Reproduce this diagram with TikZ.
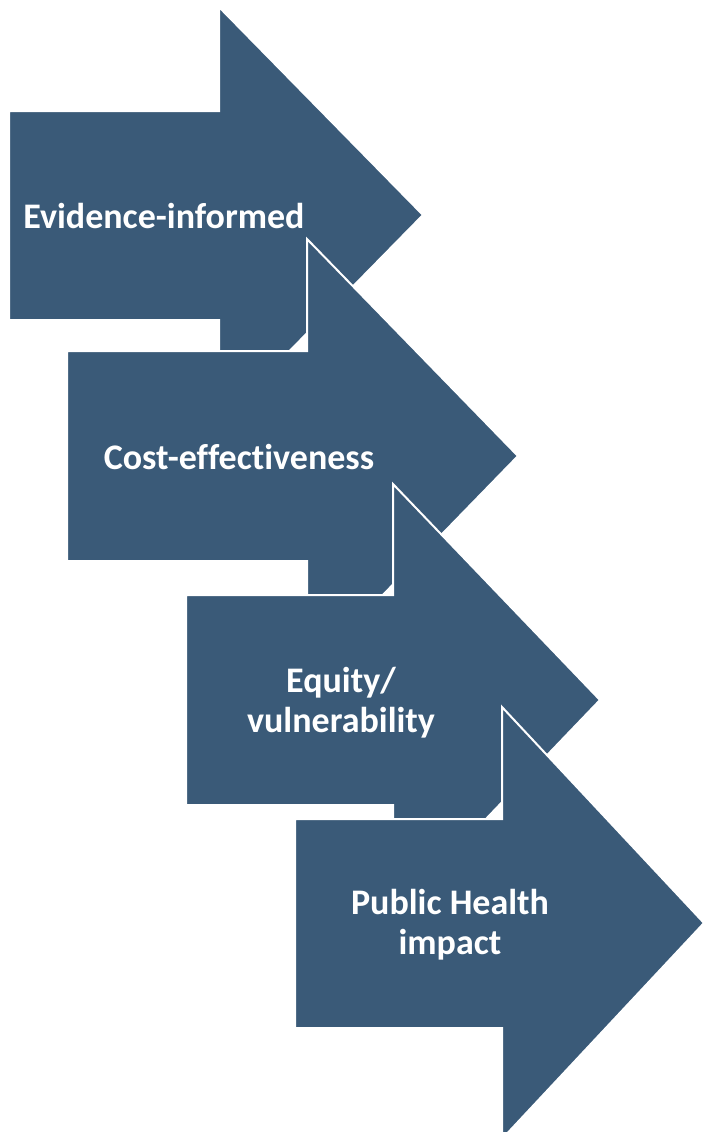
\documentclass[tikz,border=0pt]{standalone}
\usepackage{fontspec}
\setmainfont{Carlito}[Ligatures=NoCommon]
\usepackage{tikz}
\usetikzlibrary{positioning}
\definecolor{slateblue}{RGB}{58,90,120}

\begin{document}
\begin{tikzpicture}[x=0.75pt, y=-0.75pt,
    steparrow/.style={fill=slateblue, draw=white, line width=1.5pt, line join=miter},
    steplabel/.style={text=white, align=center, inner sep=0pt, font=\bfseries\fontsize{27}{30}\selectfont}]
    % Canvas
    \useasboundingbox (0,0) rectangle (704,1132);

    % Arrow 1
    \filldraw[steparrow] (9,111) -- (219,111) -- (219,7) -- (423,215) -- (219,423)
        -- (219,320) -- (9,320) -- cycle;
    \node[steplabel] (evidence) at (164,216) {Evidence-informed};

    % Arrow 2
    \filldraw[steparrow] (67,351) -- (307,351) -- (307,239) -- (518,456) -- (307,673)
        -- (307,561) -- (67,561) -- cycle;
    \node[steplabel] (cost) at (239,457) {Cost-effectiveness};

    % Arrow 3
    \filldraw[steparrow] (186,595) -- (393,595) -- (393,484) -- (600,700) -- (393,916)
        -- (393,805) -- (186,805) -- cycle;
    \node[steplabel] (equity) at (341,703) {Equity/\\vulnerability};

    % Arrow 4
    \filldraw[steparrow] (295,819) -- (502,819) -- (502,707) -- (704,923) -- (502,1139)
        -- (502,1028) -- (295,1028) -- cycle;
    \node[steplabel] (impact) at (450,925) {Public Health\\impact};
\end{tikzpicture}
\end{document}
